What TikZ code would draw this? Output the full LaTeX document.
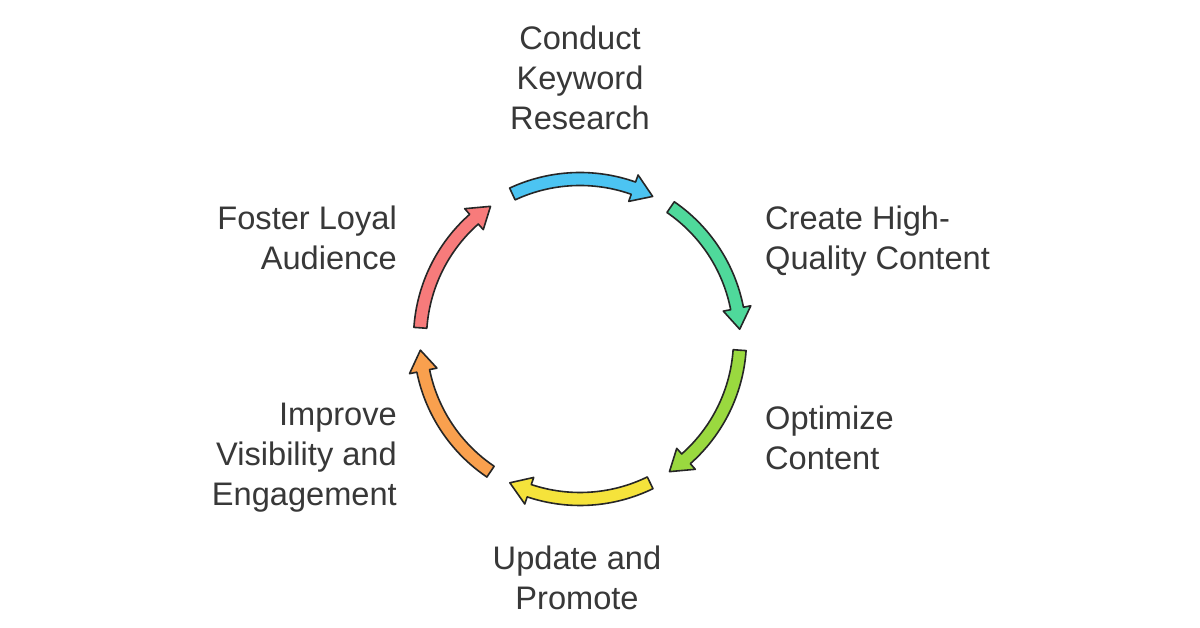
\documentclass[tikz,border=0pt]{standalone}
\usepackage{fontspec}
\setmainfont{Liberation Sans}
\definecolor{cblue}{HTML}{4CC4F2}
\definecolor{cgreen}{HTML}{4FD99B}
\definecolor{clime}{HTML}{9AD93F}
\definecolor{cyellow}{HTML}{F5E33B}
\definecolor{corange}{HTML}{F9A04E}
\definecolor{cred}{HTML}{F77B7B}
\definecolor{txt}{HTML}{383838}
\tikzset{
  arrowshape/.style={draw=black!85, line width=1.6pt, line join=round},
  lbl/.style={font=\fontsize{32.6}{40}\selectfont, text=txt, inner sep=0pt, align=#1},
}
\begin{document}
\begin{tikzpicture}[x=1pt,y=1pt]
\fill[white] (0,0) rectangle (1200,628);
\useasboundingbox (0,0) rectangle (1200,628);
\coordinate (C) at (580,289);
\begin{scope}[shift={(C)}]
\foreach \s/\c in {89/cblue, 29.5/cgreen, -30/clime, -90/cyellow, -150/corange, 150/cred} {
  \pgfmathsetmacro\a{\s+26}
  \pgfmathsetmacro\b{\s-26}
  \pgfmathsetmacro\m{\s-26+7.5}
  \filldraw[arrowshape, fill=\c]
    (\a:166.5pt) arc[start angle=\a, end angle=\m, radius=166.5pt]
    -- (\m:174pt) -- (\b:160pt) -- (\m:146pt) -- (\m:153.5pt)
    arc[start angle=\m, end angle=\a, radius=153.5pt] -- cycle;
}
\end{scope}
\node[lbl=center] (keyword) at (580,550) {Conduct\\Keyword\\Research};
\node[lbl=left, anchor=west] (create) at (765,387) {Create High-\\Quality Content};
\node[lbl=left, anchor=west] (optimize) at (765,190) {Optimize\\Content};
\node[lbl=center] (update) at (577,50) {Update and\\Promote};
\node[lbl=right, anchor=east] (improve) at (397,170) {Improve\\Visibility and\\Engagement};
\node[lbl=right, anchor=east] (foster) at (397,390) {Foster Loyal\\Audience};
\end{tikzpicture}
\end{document}
